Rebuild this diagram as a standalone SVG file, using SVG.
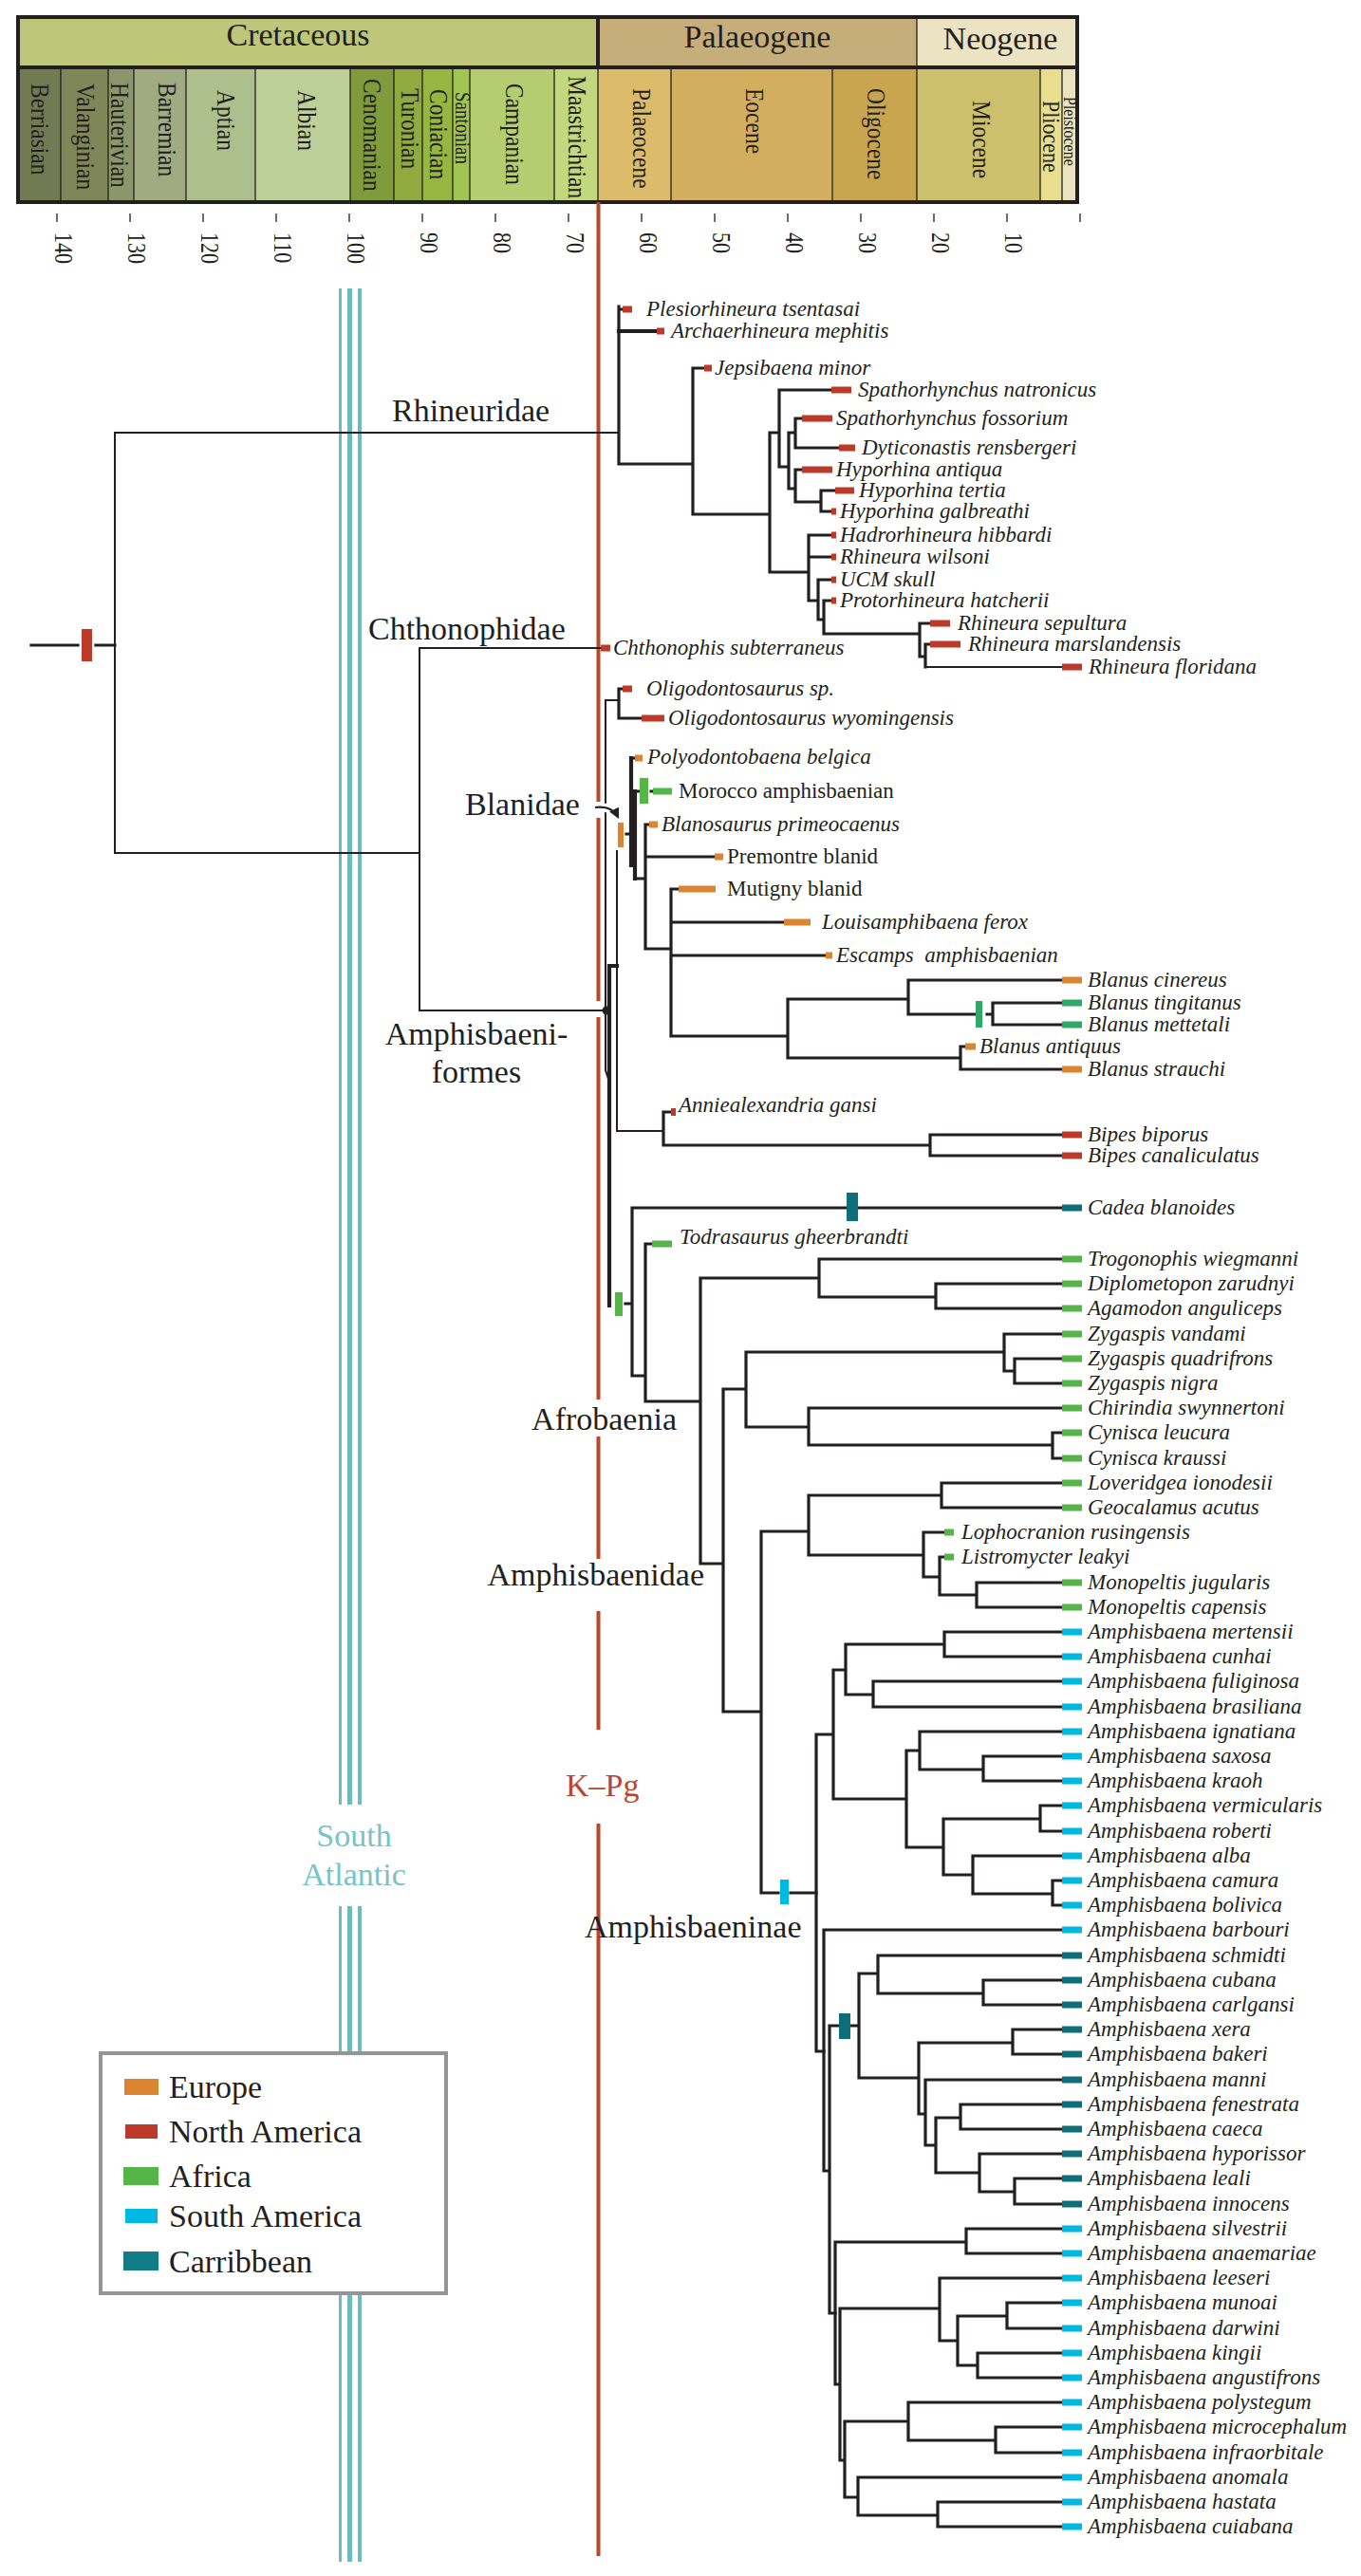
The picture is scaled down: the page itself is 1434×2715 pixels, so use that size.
<svg xmlns="http://www.w3.org/2000/svg" width="1434" height="2715" viewBox="0 0 1434 2715">
<style>
text{font-family:"Liberation Serif","Times New Roman",serif;fill:#231f20}
.tp{font-size:23px;font-style:italic}
.up{font-size:23px}
.lab{font-size:34px}
.stg{font-size:23.5px}
.num{font-size:22px}
.br{fill:none;stroke:#231f20;stroke-linecap:square}
.w2{stroke-width:2}
.w3{stroke-width:3.2}
.w4{stroke-width:4.2}
.eu{fill:#dc8530}.na{fill:#bb3a2a}.af{fill:#55b549}.sa{fill:#00b9e2}.ca{fill:#0e6f7b}.bl{fill:#30a866}
.sat{stroke:#6cbbbf;fill:none}
.kpg{stroke:#bb4628;stroke-width:4;fill:none}
</style>
<defs>
<marker id="ah" viewBox="0 0 10 10" refX="8" refY="5" markerWidth="5" markerHeight="5" orient="auto"><path d="M0 0 L10 5 L0 10 z" fill="#231f20"/></marker>
</defs>
<rect width="1434" height="2715" fill="#ffffff"/>

<g id="timescale">
<rect x="19" y="18" width="611" height="53" fill="#bec679"/>
<rect x="630" y="18" width="336" height="53" fill="#c6ae7a"/>
<rect x="966" y="18" width="169" height="53" fill="#ebe3c2"/>
<rect x="19" y="71" width="45" height="142" fill="#727a54"/>
<rect x="64" y="71" width="50" height="142" fill="#7f8759"/>
<rect x="114" y="71" width="27" height="142" fill="#8c966a"/>
<rect x="141" y="71" width="55" height="142" fill="#a0ab82"/>
<rect x="196" y="71" width="73" height="142" fill="#adbf8d"/>
<rect x="269" y="71" width="100" height="142" fill="#bdd098"/>
<rect x="369" y="71" width="46" height="142" fill="#7f9b3b"/>
<rect x="415" y="71" width="30" height="142" fill="#8fab3f"/>
<rect x="445" y="71" width="32" height="142" fill="#95b640"/>
<rect x="477" y="71" width="18" height="142" fill="#a0c553"/>
<rect x="495" y="71" width="89" height="142" fill="#b4cd70"/>
<rect x="584" y="71" width="46" height="142" fill="#c2d77e"/>
<rect x="630" y="71" width="77" height="142" fill="#dcbc6b"/>
<rect x="707" y="71" width="170" height="142" fill="#d3ae5f"/>
<rect x="877" y="71" width="89" height="142" fill="#c9a550"/>
<rect x="966" y="71" width="130" height="142" fill="#cdc06d"/>
<rect x="1096" y="71" width="23" height="142" fill="#e8de8d"/>
<rect x="1119" y="71" width="16" height="142" fill="#ebe3c0"/>
<path d="M64 71V213M114 71V213M141 71V213M196 71V213M269 71V213M369 71V213M415 71V213M445 71V213M477 71V213M495 71V213M584 71V213M630 71V213M707 71V213M877 71V213M966 18V213M1096 71V213M1119 71V213" stroke="#231f20" stroke-width="1.3" fill="none"/>
<path d="M630 18V71M19 71H1135" stroke="#231f20" stroke-width="4" fill="none"/>
<rect x="19" y="18" width="1116" height="195" fill="none" stroke="#231f20" stroke-width="4"/>
<text class="lab" x="314" y="48" text-anchor="middle">Cretaceous</text>
<text class="lab" x="798" y="50" text-anchor="middle">Palaeogene</text>
<text class="lab" x="1054" y="52" text-anchor="middle">Neogene</text>
<text class="stg" transform="translate(33,88) rotate(90) scale(1,1.18)">Berriasian</text>
<text class="stg" transform="translate(81,88) rotate(90) scale(1,1.18)">Valanginian</text>
<text class="stg" transform="translate(117,87) rotate(90) scale(1,1.18)">Hauterivian</text>
<text class="stg" transform="translate(167,87) rotate(90) scale(1,1.18)">Barremian</text>
<text class="stg" transform="translate(229,95) rotate(90) scale(1,1.18)">Aptian</text>
<text class="stg" transform="translate(314,95) rotate(90) scale(1,1.18)">Albian</text>
<text class="stg" transform="translate(383,83) rotate(90) scale(1,1.18)">Cenomanian</text>
<text class="stg" transform="translate(423,93) rotate(90) scale(1,1.18)">Turonian</text>
<text class="stg" transform="translate(453,94) rotate(90) scale(1,1.18)">Coniacian</text>
<text class="stg" style="font-size:19px" transform="translate(480,97) rotate(90) scale(1,1.18)">Santonian</text>
<text class="stg" transform="translate(533,88) rotate(90) scale(1,1.18)">Campanian</text>
<text class="stg" transform="translate(599,80) rotate(90) scale(1,1.18)">Maastrichtian</text>
<text class="stg" transform="translate(667,93) rotate(90) scale(1,1.18)">Palaeocene</text>
<text class="stg" transform="translate(786,93) rotate(90) scale(1,1.18)">Eocene</text>
<text class="stg" transform="translate(914,93) rotate(90) scale(1,1.18)">Oligocene</text>
<text class="stg" transform="translate(1025,106) rotate(90) scale(1,1.18)">Miocene</text>
<text class="stg" style="font-size:22px" transform="translate(1099,106) rotate(90) scale(1,1.18)">Pliocene</text>
<text class="stg" style="font-size:16px" transform="translate(1121,102) rotate(90) scale(1,1.18)">Pleistocene</text>
<path d="M60 225V234M137 225V234M214 225V234M291 225V234M368 225V234M445 225V234M522 225V234M599 225V234M676 225V234M753 225V234M830 225V234M907 225V234M984 225V234M1061 225V234M1138 225V234" stroke="#231f20" stroke-width="1.3" fill="none"/>
<text class="num" transform="translate(58,245) rotate(90) scale(1,1.2)">140</text>
<text class="num" transform="translate(135,245) rotate(90) scale(1,1.2)">130</text>
<text class="num" transform="translate(212,245) rotate(90) scale(1,1.2)">120</text>
<text class="num" transform="translate(289,245) rotate(90) scale(1,1.2)">110</text>
<text class="num" transform="translate(366,245) rotate(90) scale(1,1.2)">100</text>
<text class="num" transform="translate(443,245) rotate(90) scale(1,1.2)">90</text>
<text class="num" transform="translate(520,245) rotate(90) scale(1,1.2)">80</text>
<text class="num" transform="translate(597,245) rotate(90) scale(1,1.2)">70</text>
<text class="num" transform="translate(674,245) rotate(90) scale(1,1.2)">60</text>
<text class="num" transform="translate(751,245) rotate(90) scale(1,1.2)">50</text>
<text class="num" transform="translate(828,245) rotate(90) scale(1,1.2)">40</text>
<text class="num" transform="translate(905,245) rotate(90) scale(1,1.2)">30</text>
<text class="num" transform="translate(982,245) rotate(90) scale(1,1.2)">20</text>
<text class="num" transform="translate(1059,245) rotate(90) scale(1,1.2)">10</text>
</g>

<g id="south-atlantic">
<path class="sat" stroke-width="3" d="M358.5 304V1902M358.5 2009V2700"/>
<path class="sat" stroke-width="5" d="M368.5 304V1902M368.5 2009V2700"/>
<path class="sat" stroke-width="4" d="M379 304V1902M379 2009V2700"/>
<text class="lab" x="373" y="1946" text-anchor="middle" style="fill:#79c3c5">South</text>
<text class="lab" x="373" y="1987" text-anchor="middle" style="fill:#79c3c5">Atlantic</text>
</g>

<g id="kpg">
<path class="kpg" d="M630.5 213V845M630.5 862V1055M630.5 1072V1475M630.5 1514V1643M630.5 1698V1823M630.5 1922V2694"/>
<text class="lab" x="596" y="1893" style="fill:#b8452c">K–Pg</text>
</g>

<g id="connectors">
<path class="br w3" d="M33 680H82M101 680H121"/>
<path class="br w2" d="M121 456V899M121 456H652M121 899H442M442 683V1065M442 683H633M442 1065H638"/>
<path class="br w3" d="M652 323V489M652 326H656M652 489H730M730 388V542M730 388H742M730 542H811M811 456V603M811 456H821M811 603H852M821 411V492M821 411H876M821 492H831M831 456V515M831 456H838M831 515H838M838 441V472M838 441H845M838 472H884M838 495V529M838 495H845M838 529H865M865 517V539M865 517H880M865 539H876M852 564V633M852 564H876M852 587H876M852 633H862M862 611V653M862 611H876M862 653H868M868 633V668M868 633H876M868 668H969M969 657V692M969 657H980M969 692H975M975 679V703M975 679H980"/>
<path class="br w4" d="M652 349H692"/>
<path class="br w2" d="M975 703H1119"/>
<path class="br w2" d="M638 738V1128L642 1140M638 738H652M650 897V1192M650 1192H699"/>
<path class="br w3" d="M652 726V757M652 726H656M652 757H676"/>
<path class="br w4" d="M642 1018V1376M642 1018H650"/>
<path class="br w4" d="M665 799V912M669 834V926"/>
<path class="br w3" d="M660 879H664M665 799H669M665 834H674M686 834H688M669 926H680M680 869V1000M680 869H684M680 903H753M680 1000H707M707 937V1092M707 937H715M707 972H826M707 1007H870M707 1092H830M830 1053V1115M830 1053H957M830 1115H1012M957 1033V1069M957 1033H1119M957 1069H1027M1040 1069H1046M1046 1057V1080M1046 1057H1119M1046 1080H1119M1012 1103V1127M1012 1103H1017M1012 1127H1119"/>
<path class="br w3" d="M699 1172V1207M699 1172H707M699 1207H980M980 1196V1218M980 1196H1119M980 1218H1119"/>
<path class="br w3" d="M659 1374H666M666 1273V1450M666 1273H1119M666 1450H680M680 1311V1477M680 1311H687M680 1477H738M738 1347V1648M738 1347H863M738 1648H762M863 1327V1367M863 1327H1119M863 1367H986M986 1353V1379M986 1353H1119M986 1379H1119M762 1464V1804M762 1464H786M762 1804H802M786 1425V1504M786 1425H1058M786 1504H852M1058 1406V1445M1058 1406H1119M1058 1445H1069M1069 1432V1458M1069 1432H1119M1069 1458H1119M852 1484V1523M852 1484H1119M852 1523H1109M1109 1510V1537M1109 1510H1119M1109 1537H1119M802 1614V1995M802 1614H852M802 1995H820M833 1995H860M852 1576V1639M852 1576H992M852 1639H973M992 1563V1589M992 1563H1119M992 1589H1119M973 1615V1662M973 1615H995M973 1662H990M990 1641V1681M990 1641H995M990 1681H1029M1029 1668V1694M1029 1668H1119M1029 1694H1119"/>
<path class="br w3" d="M860 1828V2162M860 1828H878M860 2162H868M878 1760V1896M878 1760H891M878 1896H955M891 1733V1786M891 1733H995M891 1786H920M995 1720V1746M995 1720H1119M995 1746H1119M920 1772V1799M920 1772H1119M920 1799H1119M955 1845V1947M955 1845H969M955 1947H994M969 1825V1865M969 1825H1119M969 1865H1036M1036 1851V1877M1036 1851H1119M1036 1877H1119M994 1917V1976M994 1917H1096M994 1976H1025M1096 1903V1930M1096 1903H1119M1096 1930H1119M1025 1956V1996M1025 1956H1119M1025 1996H1109M1109 1982V2008M1109 1982H1119M1109 2008H1119"/>
<path class="br w3" d="M868 2034V2288M868 2034H1119M868 2288H874M874 2135V2438M874 2135H884M896 2135H905M874 2438H880M905 2080V2190M905 2080H925M905 2190H968M925 2061V2101M925 2061H1119M925 2101H1036M1036 2087V2113M1036 2087H1119M1036 2113H1119M968 2153V2228M968 2153H1067M968 2228H975M1067 2139V2165M1067 2139H1119M1067 2165H1119M975 2192V2261M975 2192H1119M975 2261H986M986 2232V2290M986 2232H1012M986 2290H1032M1012 2218V2244M1012 2218H1119M1012 2244H1119M1032 2270V2310M1032 2270H1119M1032 2310H1069M1069 2296V2323M1069 2296H1119M1069 2323H1119"/>
<path class="br w3" d="M880 2363V2513M880 2363H1018M880 2513H885M1018 2349V2375M1018 2349H1119M1018 2375H1119M885 2433V2593M885 2433H990M885 2593H890M990 2401V2467M990 2401H1119M990 2467H1009M1009 2441V2493M1009 2441H1061M1009 2493H1030M1061 2427V2454M1061 2427H1119M1061 2454H1119M1030 2480V2506M1030 2480H1119M1030 2506H1119M890 2552V2632M890 2552H957M890 2632H904M957 2532V2572M957 2532H1119M957 2572H1049M1049 2558V2585M1049 2558H1119M1049 2585H1119M904 2611V2651M904 2611H1119M904 2651H988M988 2637V2663M988 2637H1119M988 2663H1119"/>
<circle cx="639" cy="1065" r="4.5" fill="#231f20"/>
<path d="M627 851Q645 849 651 861" fill="none" stroke="#ffffff" stroke-width="9"/>
<path d="M627 851Q645 849 651 861" fill="none" stroke="#231f20" stroke-width="2.2" marker-end="url(#ah)"/>
</g>

<g id="dispersal-bars">
<rect class="na" x="86" y="663" width="11" height="34"/>
<rect class="eu" x="651" y="867" width="6" height="26"/>
<rect class="af" x="674" y="820" width="9" height="27"/>
<rect class="bl" x="1028" y="1055" width="7" height="28"/>
<rect class="af" x="648" y="1362" width="8" height="25"/>
<rect class="ca" x="892" y="1257" width="12" height="30"/>
<rect class="sa" x="822" y="1981" width="9" height="26"/>
<rect class="ca" x="884" y="2122" width="12" height="27"/>
</g>

<g id="clade-labels">
<text class="lab" x="413" y="444">Rhineuridae</text>
<text class="lab" x="388" y="674">Chthonophidae</text>
<text class="lab" x="490" y="859">Blanidae</text>
<text class="lab" x="502" y="1101" text-anchor="middle">Amphisbaeni-</text>
<text class="lab" x="502" y="1141" text-anchor="middle">formes</text>
<text class="lab" x="713" y="1507" text-anchor="end">Afrobaenia</text>
<text class="lab" x="742" y="1671" text-anchor="end">Amphisbaenidae</text>
<text class="lab" x="616" y="2042">Amphisbaeninae</text>
</g>

<g id="tips-rhineuridae">
<g id="t01"><rect class="na" x="656" y="322.5" width="10" height="7"/><text class="tp" x="681" y="333">Plesiorhineura tsentasai</text></g>
<g id="t02"><rect class="na" x="692" y="345.5" width="8" height="7"/><text class="tp" x="707" y="356">Archaerhineura mephitis</text></g>
<g id="t03"><rect class="na" x="742" y="384.5" width="8" height="7"/><text class="tp" x="753" y="395">Jepsibaena minor</text></g>
<g id="t04"><rect class="na" x="876" y="407.5" width="21" height="7"/><text class="tp" x="904" y="418">Spathorhynchus natronicus</text></g>
<g id="t05"><rect class="na" x="845" y="437.5" width="32" height="7"/><text class="tp" x="881" y="448">Spathorhynchus fossorium</text></g>
<g id="t06"><rect class="na" x="884" y="468.5" width="17" height="7"/><text class="tp" x="908" y="479">Dyticonastis rensbergeri</text></g>
<g id="t07"><rect class="na" x="845" y="491.5" width="32" height="7"/><text class="tp" x="881" y="502">Hyporhina antiqua</text></g>
<g id="t08"><rect class="na" x="880" y="513.5" width="20" height="7"/><text class="tp" x="905" y="524">Hyporhina tertia</text></g>
<g id="t09"><rect class="na" x="876" y="535.5" width="5" height="7"/><text class="tp" x="885" y="546">Hyporhina galbreathi</text></g>
<g id="t10"><rect class="na" x="876" y="560.5" width="5" height="7"/><text class="tp" x="885" y="571">Hadrorhineura hibbardi</text></g>
<g id="t11"><rect class="na" x="876" y="583.5" width="5" height="7"/><text class="tp" x="885" y="594">Rhineura wilsoni</text></g>
<g id="t12"><rect class="na" x="876" y="607.5" width="5" height="7"/><text class="tp" x="885" y="618">UCM skull</text></g>
<g id="t13"><rect class="na" x="876" y="629.5" width="5" height="7"/><text class="tp" x="885" y="640">Protorhineura hatcherii</text></g>
<g id="t14"><rect class="na" x="980" y="653.5" width="21" height="7"/><text class="tp" x="1009" y="664">Rhineura sepultura</text></g>
<g id="t15"><rect class="na" x="980" y="675.5" width="32" height="7"/><text class="tp" x="1020" y="686">Rhineura marslandensis</text></g>
<g id="t16"><rect class="na" x="1119" y="699.5" width="21" height="7"/><text class="tp" x="1147" y="710">Rhineura floridana</text></g>
<g id="t17"><rect class="na" x="633" y="679.5" width="10" height="7"/><text class="tp" x="646" y="690">Chthonophis subterraneus</text></g>
</g>

<g id="tips-basal">
<g id="t18"><rect class="na" x="656" y="722.5" width="10" height="7"/><text class="tp" x="681" y="733">Oligodontosaurus sp.</text></g>
<g id="t19"><rect class="na" x="676" y="753.5" width="24" height="7"/><text class="tp" x="704" y="764">Oligodontosaurus wyomingensis</text></g>
<g id="t20"><rect class="eu" x="669" y="795.5" width="8" height="7"/><text class="tp" x="682" y="805">Polyodontobaena belgica</text></g>
<g id="t21"><rect class="af" x="688" y="830.5" width="20" height="7"/><text class="up" x="715" y="841">Morocco amphisbaenian</text></g>
<g id="t22"><rect class="eu" x="684" y="865.5" width="9" height="7"/><text class="tp" x="697" y="876">Blanosaurus primeocaenus</text></g>
<g id="t23"><rect class="eu" x="753" y="899.5" width="9" height="7"/><text class="up" x="766" y="910">Premontre blanid</text></g>
<g id="t24"><rect class="eu" x="715" y="933.5" width="39" height="7"/><text class="up" x="766" y="944">Mutigny blanid</text></g>
<g id="t25"><rect class="eu" x="826" y="968.5" width="28" height="7"/><text class="tp" x="866" y="979">Louisamphibaena ferox</text></g>
<g id="t26"><rect class="eu" x="870" y="1003.5" width="7" height="7"/><text class="tp" x="881" y="1014" xml:space="preserve">Escamps  amphisbaenian</text></g>
<g id="t27"><rect class="eu" x="1119" y="1029.5" width="21" height="7"/><text class="tp" x="1146" y="1040">Blanus cinereus</text></g>
<g id="t28"><rect class="bl" x="1119" y="1053.5" width="21" height="7"/><text class="tp" x="1146" y="1064">Blanus tingitanus</text></g>
<g id="t29"><rect class="bl" x="1119" y="1076.5" width="21" height="7"/><text class="tp" x="1146" y="1087">Blanus mettetali</text></g>
<g id="t30"><rect class="eu" x="1017" y="1099.5" width="11" height="7"/><text class="tp" x="1032" y="1110">Blanus antiquus</text></g>
<g id="t31"><rect class="eu" x="1119" y="1123.5" width="21" height="7"/><text class="tp" x="1146" y="1134">Blanus strauchi</text></g>
<g id="t32"><rect class="na" x="707" y="1168" width="5" height="8"/><text class="tp" x="715" y="1172">Anniealexandria gansi</text></g>
<g id="t33"><rect class="na" x="1119" y="1192.5" width="21" height="7"/><text class="tp" x="1146" y="1203">Bipes biporus</text></g>
<g id="t34"><rect class="na" x="1119" y="1214.5" width="21" height="7"/><text class="tp" x="1146" y="1225">Bipes canaliculatus</text></g>
<g id="t35"><rect class="ca" x="1119" y="1269.5" width="21" height="7"/><text class="tp" x="1146" y="1280">Cadea blanoides</text></g>
<g id="t36"><rect class="af" x="687" y="1307.5" width="21" height="7"/><text class="tp" x="716" y="1311">Todrasaurus gheerbrandti</text></g>
</g>

<g id="tips-amphisbaenidae">
<g id="t37"><rect class="af" x="1119" y="1323.5" width="21" height="7"/><text class="tp" x="1146" y="1334">Trogonophis wiegmanni</text></g>
<g id="t38"><rect class="af" x="1119" y="1349.5" width="21" height="7"/><text class="tp" x="1146" y="1360">Diplometopon zarudnyi</text></g>
<g id="t39"><rect class="af" x="1119" y="1375.5" width="21" height="7"/><text class="tp" x="1146" y="1386">Agamodon anguliceps</text></g>
<g id="t40"><rect class="af" x="1119" y="1402.5" width="21" height="7"/><text class="tp" x="1146" y="1413">Zygaspis vandami</text></g>
<g id="t41"><rect class="af" x="1119" y="1428.5" width="21" height="7"/><text class="tp" x="1146" y="1439">Zygaspis quadrifrons</text></g>
<g id="t42"><rect class="af" x="1119" y="1454.5" width="21" height="7"/><text class="tp" x="1146" y="1465">Zygaspis nigra</text></g>
<g id="t43"><rect class="af" x="1119" y="1480.5" width="21" height="7"/><text class="tp" x="1146" y="1491">Chirindia swynnertoni</text></g>
<g id="t44"><rect class="af" x="1119" y="1506.5" width="21" height="7"/><text class="tp" x="1146" y="1517">Cynisca leucura</text></g>
<g id="t45"><rect class="af" x="1119" y="1533.5" width="21" height="7"/><text class="tp" x="1146" y="1544">Cynisca kraussi</text></g>
<g id="t46"><rect class="af" x="1119" y="1559.5" width="21" height="7"/><text class="tp" x="1146" y="1570">Loveridgea ionodesii</text></g>
<g id="t47"><rect class="af" x="1119" y="1585.5" width="21" height="7"/><text class="tp" x="1146" y="1596">Geocalamus acutus</text></g>
<g id="t48"><rect class="af" x="995" y="1611.5" width="10" height="7"/><text class="tp" x="1013" y="1622">Lophocranion rusingensis</text></g>
<g id="t49"><rect class="af" x="995" y="1637.5" width="10" height="7"/><text class="tp" x="1013" y="1648">Listromycter leakyi</text></g>
<g id="t50"><rect class="af" x="1119" y="1664.5" width="21" height="7"/><text class="tp" x="1146" y="1675">Monopeltis jugularis</text></g>
<g id="t51"><rect class="af" x="1119" y="1690.5" width="21" height="7"/><text class="tp" x="1146" y="1701">Monopeltis capensis</text></g>
<g id="t52"><rect class="sa" x="1119" y="1716.5" width="21" height="7"/><text class="tp" x="1146" y="1727">Amphisbaena mertensii</text></g>
<g id="t53"><rect class="sa" x="1119" y="1742.5" width="21" height="7"/><text class="tp" x="1146" y="1753">Amphisbaena cunhai</text></g>
<g id="t54"><rect class="sa" x="1119" y="1768.5" width="21" height="7"/><text class="tp" x="1146" y="1779">Amphisbaena fuliginosa</text></g>
<g id="t55"><rect class="sa" x="1119" y="1795.5" width="21" height="7"/><text class="tp" x="1146" y="1806">Amphisbaena brasiliana</text></g>
<g id="t56"><rect class="sa" x="1119" y="1821.5" width="21" height="7"/><text class="tp" x="1146" y="1832">Amphisbaena ignatiana</text></g>
<g id="t57"><rect class="sa" x="1119" y="1847.5" width="21" height="7"/><text class="tp" x="1146" y="1858">Amphisbaena saxosa</text></g>
<g id="t58"><rect class="sa" x="1119" y="1873.5" width="21" height="7"/><text class="tp" x="1146" y="1884">Amphisbaena kraoh</text></g>
<g id="t59"><rect class="sa" x="1119" y="1899.5" width="21" height="7"/><text class="tp" x="1146" y="1910">Amphisbaena vermicularis</text></g>
<g id="t60"><rect class="sa" x="1119" y="1926.5" width="21" height="7"/><text class="tp" x="1146" y="1937">Amphisbaena roberti</text></g>
<g id="t61"><rect class="sa" x="1119" y="1952.5" width="21" height="7"/><text class="tp" x="1146" y="1963">Amphisbaena alba</text></g>
<g id="t62"><rect class="sa" x="1119" y="1978.5" width="21" height="7"/><text class="tp" x="1146" y="1989">Amphisbaena camura</text></g>
<g id="t63"><rect class="sa" x="1119" y="2004.5" width="21" height="7"/><text class="tp" x="1146" y="2015">Amphisbaena bolivica</text></g>
<g id="t64"><rect class="sa" x="1119" y="2030.5" width="21" height="7"/><text class="tp" x="1146" y="2041">Amphisbaena barbouri</text></g>
<g id="t65"><rect class="ca" x="1119" y="2057.5" width="21" height="7"/><text class="tp" x="1146" y="2068">Amphisbaena schmidti</text></g>
<g id="t66"><rect class="ca" x="1119" y="2083.5" width="21" height="7"/><text class="tp" x="1146" y="2094">Amphisbaena cubana</text></g>
<g id="t67"><rect class="ca" x="1119" y="2109.5" width="21" height="7"/><text class="tp" x="1146" y="2120">Amphisbaena carlgansi</text></g>
<g id="t68"><rect class="ca" x="1119" y="2135.5" width="21" height="7"/><text class="tp" x="1146" y="2146">Amphisbaena xera</text></g>
<g id="t69"><rect class="ca" x="1119" y="2161.5" width="21" height="7"/><text class="tp" x="1146" y="2172">Amphisbaena bakeri</text></g>
<g id="t70"><rect class="ca" x="1119" y="2188.5" width="21" height="7"/><text class="tp" x="1146" y="2199">Amphisbaena manni</text></g>
<g id="t71"><rect class="ca" x="1119" y="2214.5" width="21" height="7"/><text class="tp" x="1146" y="2225">Amphisbaena fenestrata</text></g>
<g id="t72"><rect class="ca" x="1119" y="2240.5" width="21" height="7"/><text class="tp" x="1146" y="2251">Amphisbaena caeca</text></g>
<g id="t73"><rect class="ca" x="1119" y="2266.5" width="21" height="7"/><text class="tp" x="1146" y="2277">Amphisbaena hyporissor</text></g>
<g id="t74"><rect class="ca" x="1119" y="2292.5" width="21" height="7"/><text class="tp" x="1146" y="2303">Amphisbaena leali</text></g>
<g id="t75"><rect class="ca" x="1119" y="2319.5" width="21" height="7"/><text class="tp" x="1146" y="2330">Amphisbaena innocens</text></g>
<g id="t76"><rect class="sa" x="1119" y="2345.5" width="21" height="7"/><text class="tp" x="1146" y="2356">Amphisbaena silvestrii</text></g>
<g id="t77"><rect class="sa" x="1119" y="2371.5" width="21" height="7"/><text class="tp" x="1146" y="2382">Amphisbaena anaemariae</text></g>
<g id="t78"><rect class="sa" x="1119" y="2397.5" width="21" height="7"/><text class="tp" x="1146" y="2408">Amphisbaena leeseri</text></g>
<g id="t79"><rect class="sa" x="1119" y="2423.5" width="21" height="7"/><text class="tp" x="1146" y="2434">Amphisbaena munoai</text></g>
<g id="t80"><rect class="sa" x="1119" y="2450.5" width="21" height="7"/><text class="tp" x="1146" y="2461">Amphisbaena darwini</text></g>
<g id="t81"><rect class="sa" x="1119" y="2476.5" width="21" height="7"/><text class="tp" x="1146" y="2487">Amphisbaena kingii</text></g>
<g id="t82"><rect class="sa" x="1119" y="2502.5" width="21" height="7"/><text class="tp" x="1146" y="2513">Amphisbaena angustifrons</text></g>
<g id="t83"><rect class="sa" x="1119" y="2528.5" width="21" height="7"/><text class="tp" x="1146" y="2539">Amphisbaena polystegum</text></g>
<g id="t84"><rect class="sa" x="1119" y="2554.5" width="21" height="7"/><text class="tp" x="1146" y="2565">Amphisbaena microcephalum</text></g>
<g id="t85"><rect class="sa" x="1119" y="2581.5" width="21" height="7"/><text class="tp" x="1146" y="2592">Amphisbaena infraorbitale</text></g>
<g id="t86"><rect class="sa" x="1119" y="2607.5" width="21" height="7"/><text class="tp" x="1146" y="2618">Amphisbaena anomala</text></g>
<g id="t87"><rect class="sa" x="1119" y="2633.5" width="21" height="7"/><text class="tp" x="1146" y="2644">Amphisbaena hastata</text></g>
<g id="t88"><rect class="sa" x="1119" y="2659.5" width="21" height="7"/><text class="tp" x="1146" y="2670">Amphisbaena cuiabana</text></g>
</g>

<g id="legend">
<rect x="106" y="2164" width="364" height="253" fill="#ffffff" stroke="#939598" stroke-width="4"/>
<rect class="eu" x="131" y="2191" width="36" height="17"/>
<text class="lab" x="178" y="2211">Europe</text>
<rect class="na" x="132" y="2239" width="34" height="15"/>
<text class="lab" x="178" y="2258">North America</text>
<rect class="af" x="130" y="2284" width="37" height="19"/>
<text class="lab" x="178" y="2305">Africa</text>
<rect class="sa" x="132" y="2328" width="34" height="15"/>
<text class="lab" x="178" y="2347">South America</text>
<rect x="130" y="2373" width="37" height="20" fill="#137d87"/>
<text class="lab" x="178" y="2395">Carribbean</text>
</g>
</svg>
